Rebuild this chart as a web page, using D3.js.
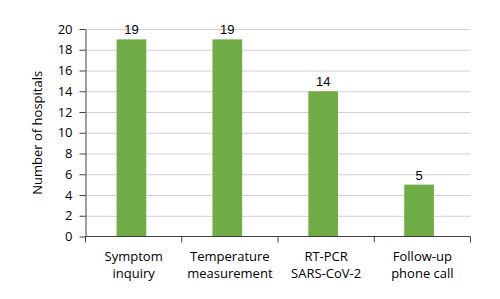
<!DOCTYPE html>
<html>
<head>
<meta charset="utf-8">
<script src="https://cdn.jsdelivr.net/npm/d3@7"></script>
<style>
  body { margin: 0; background: #fff; }
  .axis path, .axis line { stroke: #404040; }
  .grid line { stroke: #d0d0d0; }
  .grid path { display: none; }
</style>
</head>
<body>
<div id="chart"></div>
<script>
// kategori dan nilai
const categories = [
  ["Symptom", "inquiry"],
  ["Temperature", "measurement"],
  ["RT-PCR", "SARS-CoV-2"],
  ["Follow-up", "phone call"]
];
const values = [19, 19, 14, 5];
const yTicks = [0, 2, 4, 6, 8, 10, 12, 14, 16, 18, 20];

const BAR_COLOR = "#70ad47";
const FONT = "'Open Sans', 'Noto Sans', sans-serif";

const data = categories.map((c, i) => ({ key: c.join(" "), lines: c, value: values[i] }));

const margin = { top: 29, right: 29.5, bottom: 62.5, left: 85.5 };
const fullWidth = 500, fullHeight = 299;
const width = fullWidth - margin.left - margin.right;
const height = fullHeight - margin.top - margin.bottom;

const svg = d3.select("#chart")
  .append("svg")
  .attr("width", fullWidth)
  .attr("height", fullHeight)
  .append("g")
  .attr("transform", `translate(${margin.left},${margin.top})`);

// skala — batang sedikit bergeser ke kiri seperti aslinya
const x = d3.scaleBand()
  .domain(data.map(d => d.key))
  .range([-2, width - 3.5])
  .paddingInner(0.69)
  .paddingOuter(0.345);

// batas kategori untuk tick sumbu x
const xEdge = d3.scaleBand()
  .domain(data.map(d => d.key))
  .range([0, width]);

const y = d3.scaleLinear()
  .domain([0, 20])
  .range([height, 0]);

// grid
svg.append("g")
  .attr("class", "grid")
  .call(d3.axisLeft(y).tickValues(yTicks.slice(1)).tickSize(-width).tickFormat(""));

// batang
svg.selectAll(".bar")
  .data(data)
  .enter()
  .append("rect")
  .attr("class", "bar")
  .attr("x", d => x(d.key))
  .attr("width", x.bandwidth())
  .attr("y", d => y(d.value))
  .attr("height", d => height - y(d.value))
  .attr("fill", BAR_COLOR);

// label nilai
svg.selectAll(".val")
  .data(data)
  .enter()
  .append("text")
  .attr("x", d => x(d.key) + x.bandwidth() / 2)
  .attr("y", d => y(d.value) - 5)
  .attr("text-anchor", "middle")
  .attr("font-family", "'Liberation Sans', Arial, sans-serif")
  .attr("font-size", "13px")
  .attr("fill", "#000")
  .text(d => d.value);

// sumbu y
const yAxis = svg.append("g")
  .attr("class", "axis")
  .call(d3.axisLeft(y).tickValues(yTicks).tickSize(6).tickPadding(7).tickSizeOuter(0));
yAxis.selectAll("text")
  .attr("font-family", FONT)
  .attr("font-size", "13px")
  .attr("fill", "#000");

// sumbu x — tick di batas kategori
const xAxis = svg.append("g")
  .attr("class", "axis")
  .attr("transform", `translate(0,${height})`);
xAxis.append("line")
  .attr("x1", 0).attr("x2", width)
  .attr("stroke", "#404040");
const bounds = data.map(d => xEdge(d.key)).concat([width]);
xAxis.selectAll(".tk")
  .data(bounds)
  .enter()
  .append("line")
  .attr("x1", d => d).attr("x2", d => d)
  .attr("y1", 0).attr("y2", 6)
  .attr("stroke", "#404040");

const labels = xAxis.selectAll(".cat")
  .data(data)
  .enter()
  .append("text")
  .attr("text-anchor", "middle")
  .attr("font-family", FONT)
  .attr("font-size", "13px")
  .attr("fill", "#000");
labels.selectAll("tspan")
  .data(d => d.lines.map(l => ({ l, cx: xEdge(d.key) + xEdge.bandwidth() / 2 })))
  .enter()
  .append("tspan")
  .attr("x", d => d.cx)
  .attr("y", (d, i) => 24 + i * 17)
  .text(d => d.l);

// label sumbu y
svg.append("text")
  .attr("transform", "rotate(-90)")
  .attr("x", -height / 2)
  .attr("y", -margin.left + 42)
  .attr("text-anchor", "middle")
  .attr("font-family", FONT)
  .attr("font-size", "13px")
  .attr("fill", "#000")
  .text("Number of hospitals");
</script>
</body>
</html>
